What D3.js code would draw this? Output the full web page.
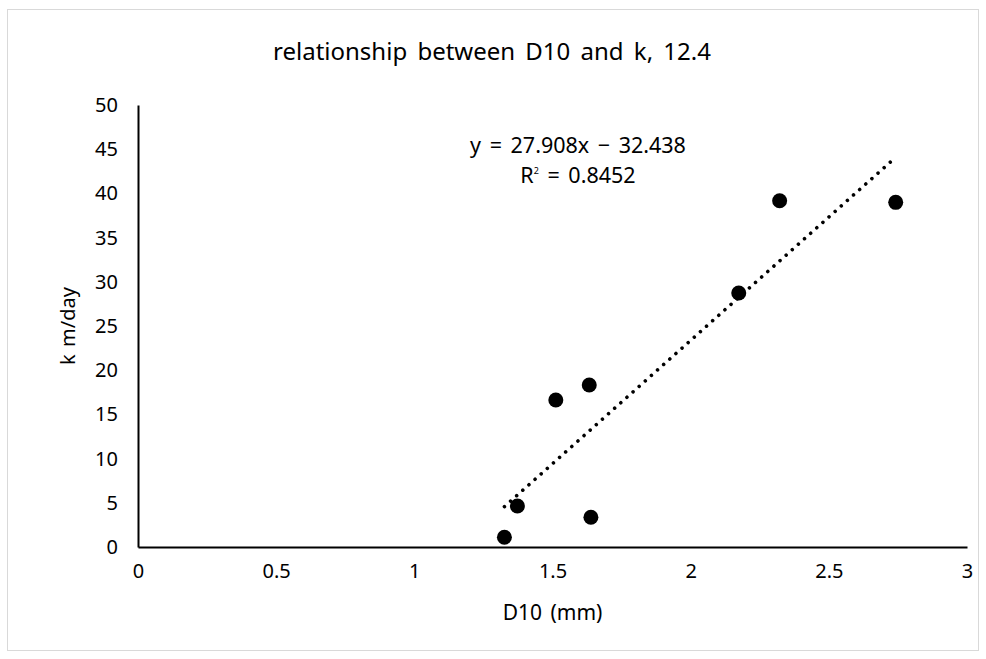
<!DOCTYPE html>
<html>
<head>
<meta charset="utf-8">
<script src="https://cdn.jsdelivr.net/npm/d3@7"></script>
<style>
  html, body { margin: 0; padding: 0; background: #fff; }
  svg { display: block; }
  text { font-family: "Noto Sans", "DejaVu Sans", sans-serif; fill: #000; }
</style>
</head>
<body>
<svg id="chart" width="986" height="659"></svg>
<script>
// D10 grain size (mm) against hydraulic conductivity k (m/day)
const d10Values = [1.326, 1.373, 1.512, 1.633, 1.639, 2.174, 2.322, 2.742];
const kValues   = [1.10, 4.64, 16.63, 18.33, 3.36, 28.73, 39.17, 38.99];
const xTicks = [0, 0.5, 1, 1.5, 2, 2.5, 3];
const yTicks = [0, 5, 10, 15, 20, 25, 30, 35, 40, 45, 50];
const trendSlope = 27.908;
const trendIntercept = -32.438;
const rSquared = 0.8452;

const titleText = "relationship between D10 and k, 12.4";
const xTitle = "D10 (mm)";
const yTitle = "k m/day";

const FONT = '"Noto Sans", "DejaVu Sans", sans-serif';
const svg = d3.select("#chart");
const W = 986, H = 659;
const plot = { left: 138, right: 967, top: 105, bottom: 547 };

// chart area frame
svg.append("rect")
  .attr("x", 7.5).attr("y", 9.5)
  .attr("width", W - 15).attr("height", H - 18)
  .attr("fill", "#fff")
  .attr("stroke", "#d9d9d9").attr("stroke-width", 1);

const x = d3.scaleLinear().domain([0, 3]).range([plot.left, plot.right]);
const y = d3.scaleLinear().domain([0, 50]).range([plot.bottom, plot.top]);

// axes (lines only, labels without tick marks)
const xAxis = svg.append("g")
  .attr("transform", `translate(0,${plot.bottom})`)
  .call(d3.axisBottom(x).tickValues(xTicks).tickSize(0).tickPadding(19)
    .tickFormat(d => String(d)));
const yAxis = svg.append("g")
  .attr("transform", `translate(${plot.left},0)`)
  .call(d3.axisLeft(y).tickValues(yTicks).tickSize(0).tickPadding(20)
    .tickFormat(d => String(d)));

[xAxis, yAxis].forEach(g => {
  g.select(".domain").attr("stroke", "#000").attr("stroke-width", 2);
  g.selectAll("text")
    .attr("font-family", FONT)
    .attr("font-size", 20).attr("fill", "#000");
});
xAxis.selectAll("text").attr("dy", "0.6em");

// linear trendline across the data range
const xMin = d3.min(d10Values), xMax = d3.max(d10Values);
svg.append("line")
  .attr("x1", x(xMin)).attr("y1", y(trendSlope * xMin + trendIntercept))
  .attr("x2", x(xMax)).attr("y2", y(trendSlope * xMax + trendIntercept))
  .attr("stroke", "#000")
  .attr("stroke-width", 3.6)
  .attr("stroke-linecap", "round")
  .attr("stroke-dasharray", "0.01 8.2");

// data points
svg.append("g").selectAll("circle")
  .data(d10Values.map((d, i) => [d, kValues[i]]))
  .join("circle")
  .attr("cx", d => x(d[0]))
  .attr("cy", d => y(d[1]))
  .attr("r", 7.5)
  .attr("fill", "#000");

// trendline equation
const eq = svg.append("g").attr("font-size", 21.5);
eq.append("text")
  .attr("x", 578).attr("y", 145).attr("dy", "0.35em")
  .attr("text-anchor", "middle")
  .attr("word-spacing", 3)
  .text(`y = ${trendSlope}x − ${Math.abs(trendIntercept)}`);
const r2 = eq.append("text")
  .attr("x", 578).attr("y", 175).attr("dy", "0.35em")
  .attr("text-anchor", "middle")
  .attr("word-spacing", 3);
r2.append("tspan").text("R");
r2.append("tspan").attr("font-size", 9).attr("dy", "-0.9em").text("2");
r2.append("tspan").attr("dy", "0.38em").text(` = ${rSquared}`);

// titles
svg.append("text")
  .attr("x", 492).attr("y", 52).attr("dy", "0.35em")
  .attr("text-anchor", "middle").attr("font-size", 24)
  .attr("word-spacing", 4)
  .text(titleText);
svg.append("text")
  .attr("x", (plot.left + plot.right) / 2).attr("y", 613).attr("dy", "0.35em")
  .attr("text-anchor", "middle").attr("font-size", 21)
  .attr("word-spacing", 3)
  .text(xTitle);
svg.append("text")
  .attr("transform", `translate(68,${(plot.top + plot.bottom) / 2}) rotate(-90)`)
  .attr("dy", "0.35em")
  .attr("text-anchor", "middle").attr("font-size", 20)
  .attr("word-spacing", 2)
  .text(yTitle);
</script>
</body>
</html>
